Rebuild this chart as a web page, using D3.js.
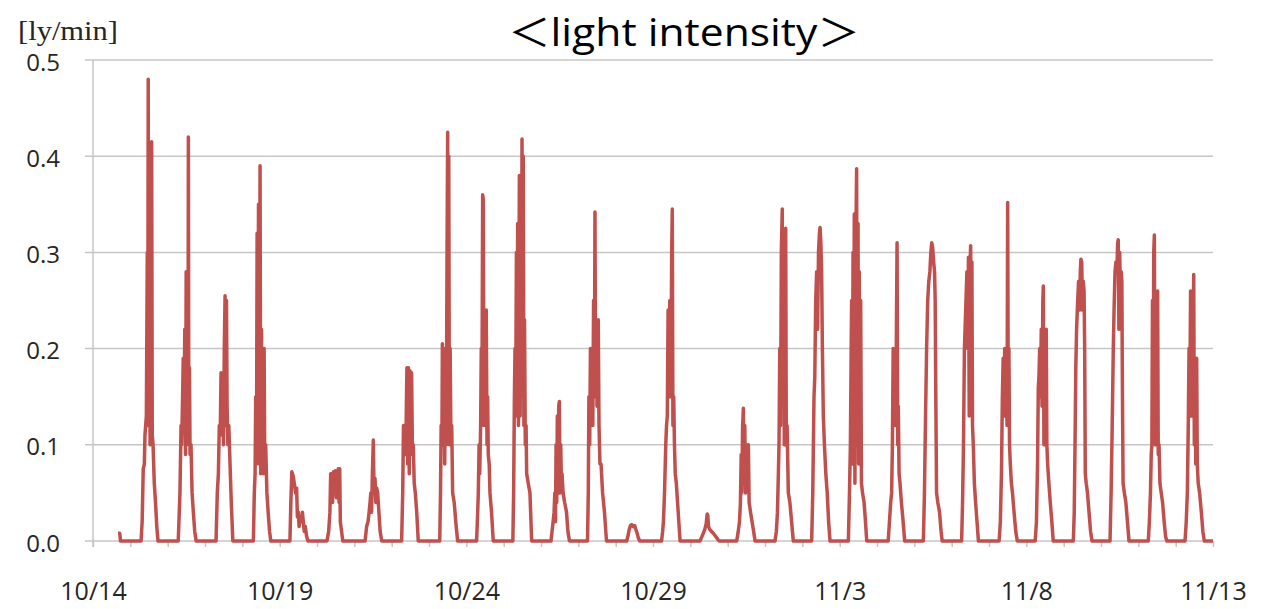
<!DOCTYPE html>
<html>
<head>
<meta charset="utf-8">
<script src="https://cdn.jsdelivr.net/npm/d3@7"></script>
<style>
  body { margin: 0; background: #fff; }
  svg { display: block; }
</style>
</head>
<body>
<svg id="chart" width="1269" height="609"></svg>
<script>
// day index 0 = 10/14, readings are [hour of day, ly/min]
const firstDay = [2013, 9, 14]
const dayCount = 30
const xTickLabels = ['10/14', '10/19', '10/24', '10/29', '11/3', '11/8', '11/13']
const yTicks = [0, 0.1, 0.2, 0.3, 0.4, 0.5]

const dayReadings = [
  // 10/14
  [[16.1, 0.008], [17.2, 0.008], [17.7, 0]],
  // 10/15
  [[6.9, 0], [7.6, 0.02], [8.3, 0.075], [9, 0.08], [9.4, 0.11], [10.3, 0.13], [10.9, 0.3], [11.2, 0.12], [11.5, 0.48], [11.8, 0.13], [12.3, 0.4], [12.7, 0.1], [13.2, 0.3], [13.5, 0.12], [13.7, 0.415], [14.1, 0.11], [14.6, 0.1], [15.4, 0.06], [16.2, 0.04], [17, 0.015], [17.8, 0]],
  // 10/16
  [[6.8, 0], [7.9, 0.05], [8.6, 0.12], [9, 0.1], [9.6, 0.15], [10, 0.19], [10.5, 0.12], [11, 0.22], [11.5, 0.09], [11.9, 0.28], [12.3, 0.1], [12.7, 0.2], [13.1, 0.12], [13.3, 0.42], [13.6, 0.1], [14, 0.18], [14.4, 0.09], [15, 0.1], [15.7, 0.05], [16.5, 0.03], [17.4, 0.01], [18.3, 0]],
  // 10/17
  [[7.1, 0], [7.9, 0.05], [8.6, 0.07], [9.2, 0.12], [9.8, 0.11], [10.3, 0.175], [10.8, 0.12], [11.4, 0.15], [11.9, 0.1], [12.4, 0.2], [12.9, 0.255], [13.3, 0.12], [13.8, 0.25], [14.2, 0.14], [14.7, 0.1], [15.3, 0.12], [16.1, 0.08], [16.9, 0.04], [17.9, 0]],
  // 10/18
  [[7.1, 0], [7.7, 0.05], [8.2, 0.07], [8.6, 0.15], [9.1, 0.08], [9.5, 0.32], [9.9, 0.1], [10.4, 0.35], [10.8, 0.08], [11.4, 0.39], [11.8, 0.07], [12.3, 0.22], [12.7, 0.08], [13.2, 0.15], [13.6, 0.07], [14, 0.2], [14.4, 0.08], [15, 0.1], [15.8, 0.05], [16.6, 0.03], [17.5, 0.01], [18.3, 0]],
  // 10/19
  [[6.6, 0], [7.2, 0.04], [7.8, 0.072], [8.6, 0.068], [9.4, 0.06], [10.2, 0.05], [10.9, 0.055], [11.4, 0.025], [12, 0.03], [12.5, 0.015], [13.2, 0.025], [14, 0.02], [14.6, 0.03], [15.2, 0.02], [15.8, 0.01], [16.5, 0.015], [17.3, 0.005], [18.2, 0]],
  // 10/20
  [[6.4, 0], [7.5, 0.01], [8.3, 0.03], [8.8, 0.07], [9.5, 0.07], [10, 0.04], [10.6, 0.072], [11.2, 0.05], [11.8, 0.073], [12.5, 0.045], [13.1, 0.07], [13.7, 0.075], [14.2, 0.04], [14.6, 0.075], [15, 0.02], [15.8, 0.01], [16.6, 0]],
  // 10/21
  [[6.9, 0], [7.9, 0.015], [8.8, 0.02], [9.5, 0.03], [10.1, 0.04], [10.6, 0.05], [11.1, 0.03], [11.6, 0.07], [12.2, 0.105], [12.7, 0.05], [13.3, 0.065], [13.8, 0.04], [14.4, 0.055], [15, 0.05], [15.8, 0.03], [16.6, 0.01], [17.6, 0]],
  // 10/22
  [[6.4, 0], [7.1, 0.05], [7.6, 0.12], [8.3, 0.12], [8.8, 0.09], [9.3, 0.12], [9.8, 0.18], [10.3, 0.08], [10.8, 0.18], [11.3, 0.07], [11.8, 0.177], [12.3, 0.09], [12.8, 0.175], [13.3, 0.1], [13.9, 0.1], [14.5, 0.06], [15.2, 0.05], [16.1, 0.03], [17.1, 0]],
  // 10/23
  [[6.9, 0], [7.4, 0.05], [7.8, 0.12], [8.3, 0.1], [8.6, 0.205], [9.1, 0.12], [9.6, 0.2], [10.1, 0.08], [10.6, 0.2], [11.1, 0.1], [11.6, 0.3], [12, 0.425], [12.3, 0.12], [12.7, 0.4], [13.1, 0.1], [13.6, 0.2], [14, 0.12], [14.6, 0.12], [15.2, 0.05], [16.2, 0.04], [17.2, 0.02], [18.4, 0]],
  // 10/24
  [[6.6, 0], [7.3, 0.03], [7.7, 0.05], [8.2, 0.1], [8.6, 0.07], [9.2, 0.12], [9.6, 0.2], [10, 0.13], [10.5, 0.36], [10.9, 0.355], [11.3, 0.12], [11.8, 0.2], [12.3, 0.12], [12.8, 0.24], [13.3, 0.1], [13.7, 0.15], [14.1, 0.09], [14.7, 0.08], [15.2, 0.05], [16.2, 0.03], [17.3, 0]],
  // 10/25
  [[5.9, 0], [6.4, 0.05], [6.9, 0.15], [7.3, 0.2], [7.7, 0.13], [8.2, 0.3], [8.6, 0.15], [9, 0.33], [9.5, 0.12], [10.1, 0.38], [10.6, 0.13], [11.1, 0.35], [11.5, 0.2], [11.8, 0.418], [12.2, 0.15], [12.6, 0.4], [13, 0.12], [13.4, 0.23], [13.9, 0.1], [14.4, 0.12], [14.8, 0.07], [15.8, 0.06], [16.9, 0.05], [18, 0]],
  // 10/26
  [[6.4, 0], [7.1, 0.01], [7.8, 0.02], [8.4, 0.03], [8.9, 0.05], [9.3, 0.02], [9.7, 0.1], [10.1, 0.04], [10.5, 0.13], [10.9, 0.05], [11.4, 0.14], [11.8, 0.145], [12.2, 0.05], [12.7, 0.1], [13.1, 0.06], [13.5, 0.07], [14.2, 0.05], [15.2, 0.04], [16.4, 0.03], [17.3, 0.01], [18.3, 0]],
  // 10/27
  [[5.9, 0], [6.4, 0.05], [6.8, 0.15], [7.3, 0.1], [7.8, 0.2], [8.3, 0.14], [8.8, 0.2], [9.3, 0.12], [9.8, 0.25], [10.3, 0.15], [10.7, 0.342], [11.1, 0.15], [11.6, 0.22], [12, 0.14], [12.4, 0.2], [12.8, 0.23], [13.3, 0.12], [13.9, 0.08], [14.6, 0.08], [15.6, 0.05], [16.8, 0.03], [18.1, 0]],
  // 10/28
  [[7.1, 0], [8, 0.006], [8.7, 0.012], [9.5, 0.016], [10.3, 0.017], [11.3, 0.015], [12.2, 0.016], [13, 0.012], [13.8, 0.008], [14.6, 0.003], [15.5, 0]],
  // 10/29
  [[5.5, 0], [6.2, 0.01], [6.7, 0.02], [7.4, 0.05], [8.2, 0.1], [8.7, 0.12], [9.2, 0.13], [9.7, 0.24], [10.3, 0.15], [10.8, 0.25], [11.5, 0.15], [12, 0.3], [12.4, 0.345], [12.8, 0.12], [13.3, 0.15], [13.8, 0.1], [14.3, 0.07], [15, 0.06], [15.8, 0.04], [16.6, 0.02], [17.4, 0]],
  // 10/30
  [[6.2, 0], [7.3, 0.004], [8.3, 0.008], [9.3, 0.012], [10.2, 0.018], [10.8, 0.028], [11.2, 0.027], [11.7, 0.015], [12.5, 0.012], [13.5, 0.01], [14.8, 0.008], [16.2, 0.005], [17.5, 0.002], [18.5, 0]],
  // 10/31
  [[5.8, 0], [6.8, 0.01], [7.6, 0.02], [8.2, 0.04], [8.7, 0.09], [9.1, 0.05], [9.6, 0.12], [10.1, 0.138], [10.5, 0.06], [11, 0.12], [11.5, 0.05], [12, 0.1], [12.5, 0.06], [13.3, 0.1], [13.8, 0.04], [14.7, 0.03], [15.7, 0.02], [16.7, 0.01], [17.6, 0]],
  // 11/1
  [[6.4, 0], [7.3, 0.01], [8, 0.03], [8.6, 0.07], [9, 0.1], [9.5, 0.2], [10, 0.12], [10.5, 0.3], [11.1, 0.345], [11.5, 0.15], [12, 0.3], [12.4, 0.1], [12.9, 0.25], [13.3, 0.325], [13.7, 0.1], [14.2, 0.12], [15, 0.05], [16, 0.04], [17.1, 0.02], [18.2, 0]],
  // 11/2
  [[6, 0], [6.7, 0.05], [7.1, 0.1], [7.5, 0.15], [8, 0.17], [8.6, 0.25], [9.2, 0.28], [9.8, 0.22], [10.4, 0.3], [11, 0.32], [11.4, 0.326], [11.9, 0.31], [12.4, 0.28], [12.9, 0.2], [13.5, 0.13], [14.2, 0.1], [15.1, 0.07], [16, 0.05], [16.9, 0.02], [17.8, 0]],
  // 11/3
  [[5.6, 0], [6.3, 0.05], [6.9, 0.1], [7.4, 0.2], [7.7, 0.25], [8.1, 0.08], [8.6, 0.3], [9, 0.12], [9.4, 0.34], [9.8, 0.06], [10.3, 0.3], [10.9, 0.387], [11.3, 0.1], [11.8, 0.33], [12.2, 0.08], [12.6, 0.28], [13, 0.1], [13.5, 0.25], [14, 0.06], [14.7, 0.05], [15.7, 0.04], [16.6, 0.02], [17.4, 0]],
  // 11/4
  [[7.2, 0], [8, 0.02], [8.8, 0.04], [9.4, 0.05], [9.9, 0.1], [10.4, 0.2], [10.8, 0.13], [11.3, 0.18], [11.8, 0.12], [12.4, 0.2], [12.9, 0.31], [13.3, 0.1], [13.7, 0.14], [14.2, 0.07], [14.8, 0.06], [15.7, 0.04], [16.8, 0.02], [17.8, 0]],
  // 11/5
  [[5.8, 0], [6.5, 0.05], [7.2, 0.13], [7.9, 0.2], [8.6, 0.25], [9.3, 0.27], [10, 0.28], [10.6, 0.3], [11.2, 0.31], [11.8, 0.305], [12.4, 0.29], [13, 0.28], [13.4, 0.25], [13.8, 0.15], [14.3, 0.05], [15.1, 0.04], [16.2, 0.03], [17.2, 0.01], [17.9, 0]],
  // 11/6
  [[6.4, 0], [7, 0.04], [7.6, 0.1], [8.2, 0.2], [8.6, 0.22], [9.2, 0.25], [9.8, 0.28], [10.3, 0.2], [10.8, 0.295], [11.3, 0.13], [11.8, 0.28], [12.2, 0.307], [12.6, 0.2], [13, 0.29], [13.4, 0.12], [13.9, 0.1], [14.6, 0.06], [15.4, 0.04], [16.3, 0.02], [17.2, 0]],
  // 11/7
  [[6.5, 0], [7.3, 0.02], [8, 0.07], [8.6, 0.15], [9.1, 0.19], [9.6, 0.13], [10.1, 0.2], [10.6, 0.14], [11.1, 0.2], [11.6, 0.12], [12, 0.352], [12.4, 0.12], [12.8, 0.2], [13.2, 0.1], [13.7, 0.08], [14.4, 0.06], [15.1, 0.05], [16.1, 0.03], [17.2, 0.01], [18.2, 0]],
  // 11/8
  [[5.7, 0], [6.5, 0.02], [7.2, 0.08], [7.7, 0.16], [8.1, 0.17], [8.6, 0.2], [9.1, 0.15], [9.6, 0.22], [10.1, 0.14], [10.6, 0.25], [10.9, 0.265], [11.3, 0.1], [11.8, 0.2], [12.3, 0.12], [12.8, 0.22], [13.2, 0.1], [13.7, 0.08], [14.5, 0.06], [15.4, 0.04], [16.4, 0.02], [17.3, 0]],
  // 11/9
  [[6.2, 0], [6.8, 0.03], [7.3, 0.1], [7.8, 0.18], [8.3, 0.22], [9, 0.25], [9.6, 0.27], [10.2, 0.24], [10.7, 0.28], [11.1, 0.293], [11.6, 0.29], [12.1, 0.24], [12.6, 0.27], [13.1, 0.26], [13.5, 0.2], [13.9, 0.07], [14.5, 0.06], [15.3, 0.05], [16.3, 0.03], [17.3, 0.01], [18.2, 0]],
  // 11/10
  [[5.8, 0], [6.5, 0.05], [7.2, 0.12], [7.9, 0.2], [8.4, 0.24], [9, 0.28], [9.6, 0.29], [10.2, 0.28], [10.7, 0.31], [11.1, 0.313], [11.5, 0.22], [12, 0.3], [12.5, 0.26], [13, 0.28], [13.4, 0.27], [13.8, 0.15], [14.2, 0.06], [15, 0.05], [16, 0.04], [17, 0.02], [18, 0]],
  // 11/11
  [[6.4, 0], [7.1, 0.02], [7.8, 0.05], [8.3, 0.09], [8.7, 0.1], [9.1, 0.25], [9.5, 0.12], [9.9, 0.3], [10.3, 0.318], [10.7, 0.1], [11.2, 0.25], [11.6, 0.1], [12, 0.2], [12.4, 0.26], [12.8, 0.09], [13.3, 0.1], [13.9, 0.06], [14.7, 0.05], [15.6, 0.04], [16.6, 0.02], [17.5, 0.005], [18.3, 0]],
  // 11/12
  [[6, 0], [6.8, 0.02], [7.5, 0.05], [8.1, 0.12], [8.6, 0.2], [9.1, 0.15], [9.6, 0.26], [10.1, 0.13], [10.6, 0.25], [11.1, 0.2], [11.6, 0.277], [12, 0.1], [12.5, 0.18], [12.9, 0.08], [13.5, 0.19], [13.9, 0.08], [14.5, 0.06], [15.4, 0.05], [16.5, 0.03], [17.5, 0.01], [18.4, 0]],
  // 11/13
  [[0, 0]]
]

const dayDate = i => new Date(Date.UTC(firstDay[0], firstDay[1], firstDay[2] + i))
const parseLabel = s => {
  const [m, d] = s.split('/').map(Number)
  return new Date(Date.UTC(firstDay[0], m - 1, d))
}

const series = []
dayReadings.forEach((day, i) => {
  day.forEach(([h, v]) => series.push({ t: new Date(+dayDate(i) + h * 3600e3), v }))
})

const svg = d3.select('#chart')
const plotLeft = 93, plotRight = 1213, plotTop = 60, plotBottom = 541
const gridColour = '#c6c6c6'
const textColour = '#262626'
const lineColour = '#c0504d'

const x = d3.scaleUtc().domain([dayDate(0), dayDate(dayCount)]).range([plotLeft, plotRight])
const y = d3.scaleLinear().domain([0, 0.5]).range([plotBottom, plotTop])

// horizontal gridlines, with their left stubs
svg.append('g')
  .selectAll('line')
  .data(yTicks)
  .join('line')
  .attr('x1', plotLeft - 8)
  .attr('x2', plotRight)
  .attr('y1', d => y(d))
  .attr('y2', d => y(d))
  .attr('stroke', gridColour)
  .attr('stroke-width', 1.5)

// vertical axis line
svg.append('line')
  .attr('x1', plotLeft).attr('x2', plotLeft)
  .attr('y1', plotTop).attr('y2', plotBottom + 6)
  .attr('stroke', gridColour)
  .attr('stroke-width', 1.5)

// y tick labels
svg.append('g')
  .attr('transform', `translate(${plotLeft}, 0)`)
  .style('font-family', "'Open Sans', sans-serif")
  .style('font-size', '24px')
  .call(d3.axisLeft(y).tickValues(yTicks).tickSize(0).tickPadding(33).tickFormat(d3.format('.1f')))
  .call(g => g.select('.domain').remove())
  .call(g => g.selectAll('text').attr('fill', textColour).attr('dy', '0.42em'))

// x axis: a small tick every day, a label every five days
const labelDates = xTickLabels.map(parseLabel)
const labelSet = new Set(labelDates.map(d => +d))
svg.append('g')
  .attr('transform', `translate(0, ${plotBottom})`)
  .style('font-family', "'Open Sans', sans-serif")
  .style('font-size', '25px')
  .call(
    d3.axisBottom(x)
      .tickValues(d3.range(dayCount + 1).map(dayDate))
      .tickSize(6)
      .tickPadding(35)
      .tickFormat(d => labelSet.has(+d) ? xTickLabels[labelDates.findIndex(l => +l === +d)] : '')
  )
  .call(g => g.select('.domain').remove())
  .call(g => g.selectAll('.tick line').attr('stroke', gridColour).attr('stroke-width', 1.5))
  .call(g => g.selectAll('text').attr('fill', textColour))

// the light intensity trace
svg.append('path')
  .datum(series)
  .attr('fill', 'none')
  .attr('stroke', lineColour)
  .attr('stroke-width', 3.5)
  .attr('stroke-linejoin', 'round')
  .attr('d', d3.line().x(d => x(d.t)).y(d => y(d.v)))

// unit label
svg.append('text')
  .attr('x', 18)
  .attr('y', 40)
  .attr('font-family', "'Liberation Serif', serif")
  .attr('font-size', 28)
  .attr('textLength', 100)
  .attr('lengthAdjust', 'spacingAndGlyphs')
  .attr('fill', textColour)
  .text('[ly/min]')

// title
svg.append('text')
  .attr('x', 684)
  .attr('y', 46)
  .attr('text-anchor', 'middle')
  .attr('font-family', "'Open Sans', 'Noto Sans CJK JP', sans-serif")
  .attr('font-size', 38)
  .attr('textLength', 352)
  .attr('lengthAdjust', 'spacingAndGlyphs')
  .attr('fill', '#000')
  .text('＜light intensity＞')
</script>
</body>
</html>
